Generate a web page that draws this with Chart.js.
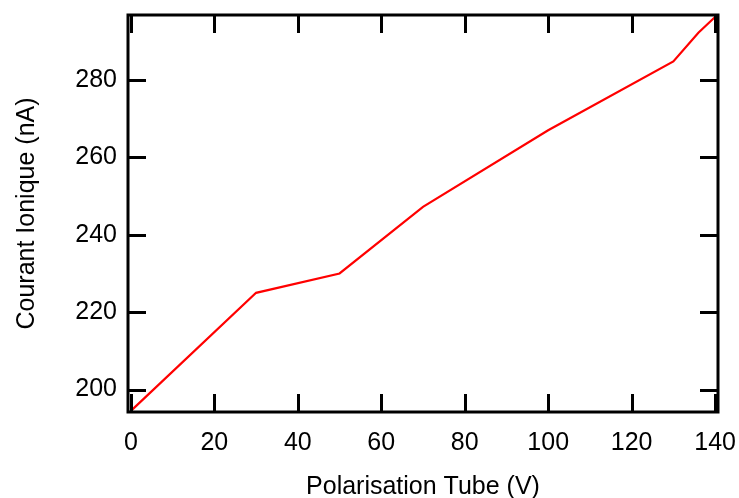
<!DOCTYPE html>
<html>
<head>
<meta charset="utf-8">
<script src="https://cdn.jsdelivr.net/npm/chart.js@4"></script>
<style>
	html, body { margin: 0; padding: 0; background: #fff; }
	#wrap { width: 739px; height: 498px; }
</style>
</head>
<body>
<div id="wrap"><canvas id="chart" width="739" height="498"></canvas></div>
<script>
// values
const biasVolts = [0, 30, 50, 70, 100, 130, 136, 140]
const ionCurrent = [194.5, 225, 230, 247.2, 267, 284.8, 292.2, 296.3]
const xTicks = [0, 20, 40, 60, 80, 100, 120, 140]
const yTicks = [200, 220, 240, 260, 280]

const fontFamily = '"Liberation Sans", Arial, sans-serif'

// ticks pointing inward on all four sides plus the frame
const frameTicks = {
	id: 'frameTicks',
	afterDraw: (chart) => {
		const { ctx, chartArea: a, scales } = chart
		const len = 18
		ctx.save()
		ctx.strokeStyle = '#000'
		ctx.lineWidth = 3
		ctx.lineCap = 'butt'
		xTicks.forEach((v) => {
			const px = Math.round(scales.x.getPixelForValue(v)) + 0.5
			ctx.beginPath()
			ctx.moveTo(px, a.bottom)
			ctx.lineTo(px, a.bottom - len)
			ctx.moveTo(px, a.top)
			ctx.lineTo(px, a.top + len)
			ctx.stroke()
		})
		yTicks.forEach((v) => {
			const py = Math.round(scales.y.getPixelForValue(v)) + 0.5
			ctx.beginPath()
			ctx.moveTo(a.left, py)
			ctx.lineTo(a.left + len, py)
			ctx.moveTo(a.right, py)
			ctx.lineTo(a.right - len, py)
			ctx.stroke()
		})
		ctx.lineJoin = 'miter'
		ctx.strokeRect(a.left, a.top, a.right - a.left, a.bottom - a.top)
		ctx.restore()
	}
}

const config = {
	type: 'scatter',
	data: {
		datasets: [{
			data: biasVolts.map((x, i) => ({ x: x, y: ionCurrent[i] })),
			showLine: true,
			borderColor: '#ff0000',
			borderWidth: 2.2,
			pointRadius: 0,
			tension: 0,
			clip: false
		}]
	},
	options: {
		responsive: false,
		animation: false,
		layout: { padding: { top: 15, right: 21, left: 0, bottom: 0 } },
		plugins: {
			legend: { display: false },
			tooltip: { enabled: false }
		},
		scales: {
			x: {
				type: 'linear',
				min: -0.7,
				max: 140.7,
				afterBuildTicks: (s) => { s.ticks = xTicks.map((v) => ({ value: v })) },
				afterFit: (s) => {
					s.height = 86
					s.paddingLeft = 0
					s.paddingRight = 0
				},
				grid: { display: false, drawTicks: false },
				border: { display: false },
				ticks: {
					color: '#000',
					padding: 16,
					maxRotation: 0,
					font: { family: fontFamily, size: 25 }
				},
				title: {
					display: true,
					text: 'Polarisation Tube (V)',
					color: '#000',
					padding: { top: 0, bottom: -4 },
					font: { family: fontFamily, size: 25 }
				}
			},
			y: {
				type: 'linear',
				min: 194.2,
				max: 296.8,
				afterBuildTicks: (s) => { s.ticks = yTicks.map((v) => ({ value: v })) },
				afterFit: (s) => {
					s.width = 128
					s.paddingTop = 0
					s.paddingBottom = 0
				},
				grid: { display: false, drawTicks: false },
				border: { display: false },
				ticks: {
					color: '#000',
					padding: 11,
					font: { family: fontFamily, size: 25 }
				},
				title: {
					display: true,
					text: 'Courant Ionique (nA)',
					color: '#000',
					padding: { top: 12, bottom: 0 },
					font: { family: fontFamily, size: 25 }
				}
			}
		}
	},
	plugins: [frameTicks]
}

const ctx = document.querySelector('#chart').getContext('2d')
const currentChart = new Chart(ctx, config)
</script>
</body>
</html>
